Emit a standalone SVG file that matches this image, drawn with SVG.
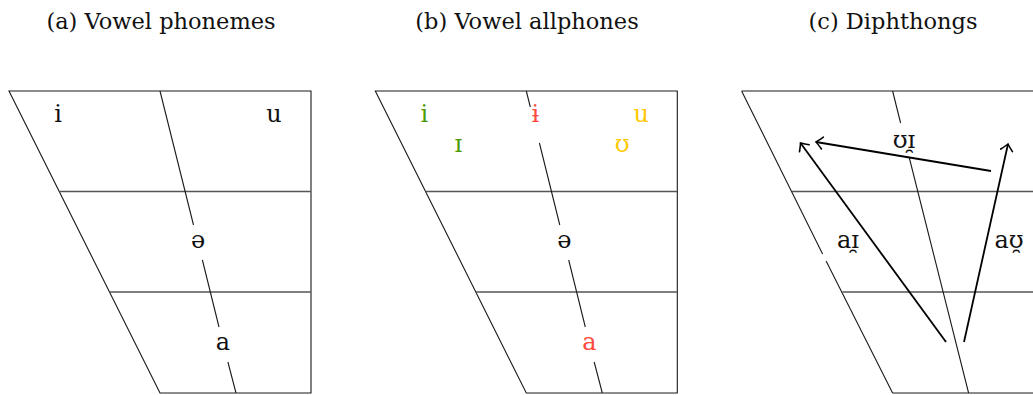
<svg xmlns="http://www.w3.org/2000/svg" width="1033" height="395" viewBox="0 0 1033 395">
  <style>
    .frame { fill: none; stroke: #1a1a1a; stroke-width: 1.1; }
    .row { fill: none; stroke: #555; stroke-width: 1.4; }
    .title { font-family: "DejaVu Serif", "Liberation Serif", serif; font-size: 22.5px; text-anchor: middle; fill: #111; }
    .v { font-family: "DejaVu Serif", "Liberation Serif", serif; font-size: 24px; text-anchor: middle; fill: #111; }
    .green { fill: #4c9a00; }
    .red { fill: #ff4b3e; }
    .yellow { fill: #ffc800; }
    .arrow { fill: none; stroke: #000; stroke-width: 1.8; marker-end: url(#tip); }
  </style>
  <defs>
    <marker id="tip" markerUnits="userSpaceOnUse" viewBox="-10 -8 14 16" refX="0" refY="0" markerWidth="14" markerHeight="16" orient="auto">
      <path d="M -6.5,-6 Q -2,-1.5 0,0 Q -2,1.5 -6.5,6" fill="none" stroke="#000" stroke-width="1.6" stroke-linecap="round"/>
    </marker>
  </defs>

  <rect width="1033" height="395" fill="#fff"/>

  <!-- titles -->
  <text class="title" x="161" y="29">(a) Vowel phonemes</text>
  <text class="title" x="527" y="29">(b) Vowel allphones</text>
  <text class="title" x="893" y="29">(c) Diphthongs</text>

  <!-- (a) vowel phonemes -->
  <g id="chart-a">
    <path class="frame" d="M9,91 H311 V393 H160 Z"/>
    <path class="row" d="M59.3,191.5 H311 M109.8,292 H311"/>
    <path class="frame" d="M160,91 L193.5,225 M202.4,260 L219,327 M227.9,362 L236,393"/>
    <text class="v" x="58" y="122">i</text>
    <text class="v" x="274" y="122">u</text>
    <text class="v" x="198" y="248">ə</text>
    <text class="v" x="223" y="350">a</text>
  </g>

  <!-- (b) vowel allophones -->
  <g id="chart-b" transform="translate(366.3,0)">
    <path class="frame" d="M9,91 H311 V393 H160 Z"/>
    <path class="row" d="M59.3,191.5 H311 M109.8,292 H311"/>
    <path class="frame" d="M160,91 L164,107 M173.1,143 L193.5,225 M202.4,260 L219,327 M227.9,362 L236,393"/>
    <text class="v green" x="58" y="122">i</text>
    <text class="v green" x="92" y="152">ɪ</text>
    <text class="v red" x="169" y="122">ɨ</text>
    <text class="v yellow" x="275" y="122">u</text>
    <text class="v yellow" x="256" y="152">ʊ</text>
    <text class="v" x="198" y="248">ə</text>
    <text class="v red" x="223" y="350">a</text>
  </g>

  <!-- (c) diphthongs -->
  <g id="chart-c" transform="translate(732.6,0)">
    <path class="frame" d="M9,91 H311 M311,91 V393 H160 M9,91 L90,254 M93.5,261 L160,393"/>
    <path class="row" d="M59.3,191.5 H311 M109.8,292 H311"/>
    <path class="frame" d="M160,91 L168,123 M176.5,157 L236,393"/>
  </g>

  <!-- diphthong trajectories -->
  <g id="connectors">
    <path class="arrow" d="M946,342 L800.5,143"/>
    <path class="arrow" d="M964,342 L1008,144"/>
    <path class="arrow" d="M991,171 L816,142"/>
  </g>

  <g id="labels-c">
    <text class="v" x="904" y="148">ʊɪ̯</text>
    <text class="v" x="848" y="248">aɪ̯</text>
    <text class="v" x="1009" y="248">aʊ̯</text>
  </g>
</svg>
